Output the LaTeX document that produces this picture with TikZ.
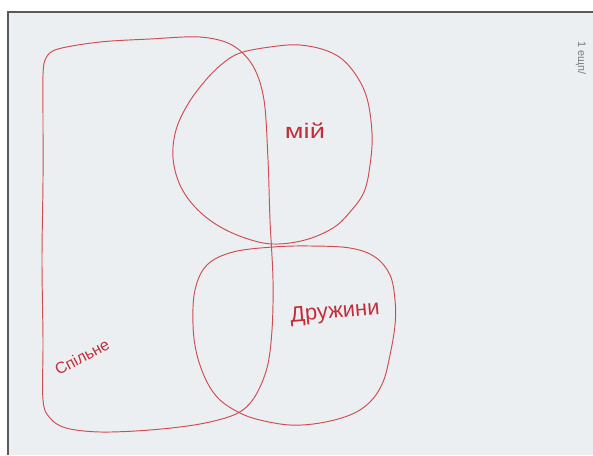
\documentclass[tikz,border=0pt]{standalone}
\usepackage{fontspec}
\setmainfont{Liberation Sans}
\definecolor{paper}{HTML}{EBEFF1}
\definecolor{pencil}{HTML}{D04C52}
\definecolor{ink}{HTML}{C22E3A}
\definecolor{frame}{HTML}{5A5A5A}
\tikzset{
  sketch/.style={draw=pencil, line width=0.95pt, line join=round},
  label/.style={text=ink, inner sep=0pt},
}
\begin{document}
\begin{tikzpicture}[x=1pt,y=-1pt]
\useasboundingbox (0,0) rectangle (593,455);
\fill[white] (0,0) rectangle (593,455);
\fill[paper] (8,12) rectangle (593,455);
\draw[frame, line width=2pt] (8,455) -- (8,12) -- (593,12);

% big rounded rectangle (common)
\draw[sketch] plot[smooth cycle, tension=0.55] coordinates {
  (43,75) (46,58) (58,49) (100,42) (150,39) (200,37) (232,45) (253,66)
  (264,100) (268,160) (270,220) (273,280) (272,330) (267,368) (254,398)
  (236,414) (200,424) (150,430) (100,432) (66,428) (50,418) (43,400)
  (43,340) (42,260) (43,180) (43,120)};

% top circle (mine)
\draw[sketch] plot[smooth cycle, tension=0.6] coordinates {
  (240,53) (270,47) (300,45) (330,52) (350,67) (366,95) (372,133)
  (370,165) (364,192) (350,212) (333,228) (305,240) (273,244) (245,238)
  (217,225) (195,207) (180,185) (173,158) (176,130) (188,104) (205,81)
  (222,64)};

% bottom rounded square (wife's)
\draw[sketch] plot[smooth cycle, tension=0.6] coordinates {
  (273,247) (310,246) (350,248) (375,257) (390,275) (395,300) (395,325)
  (390,355) (383,382) (370,402) (350,415) (320,423) (290,425) (260,420)
  (240,413) (220,400) (207,382) (197,355) (193,325) (195,290) (207,265)
  (233,252)};

\node[label, font=\fontsize{21}{21}\selectfont, xscale=1.3] (mine) at (305,131) {мій};
\node[label, font=\fontsize{22}{22}\selectfont, rotate=5] (wife) at (335,313) {Дружини};
\node[label, font=\fontsize{16}{16}\selectfont, rotate=28] (common) at (82,357) {Спільне};
\node[text=frame!80, inner sep=0pt, font=\fontsize{11}{11}\selectfont, rotate=-90] (corner) at (581,58) {1 ещп/};
\end{tikzpicture}
\end{document}
